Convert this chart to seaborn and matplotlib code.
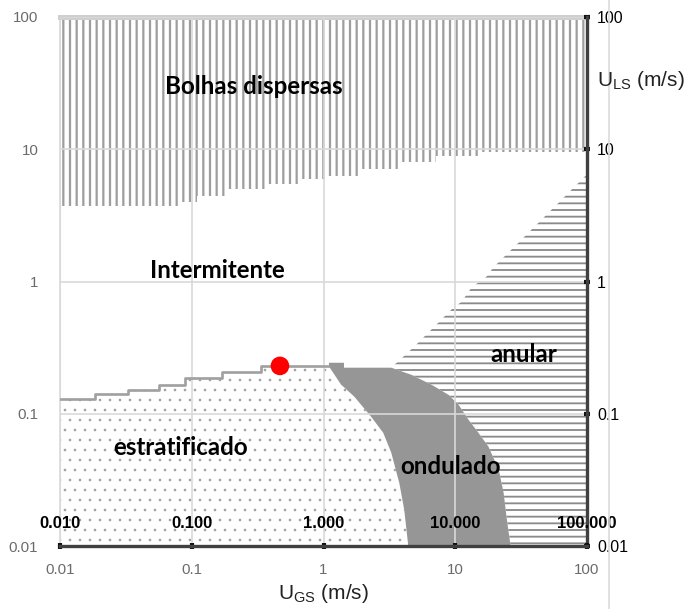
import matplotlib
matplotlib.use("Agg")
import matplotlib.pyplot as plt
import matplotlib.ticker as mticker
from matplotlib.lines import Line2D
import pandas as pd
import seaborn as sns

# Decade ticks and their labels on each of the four axes
decades = [0.01, 0.1, 1, 10, 100]
left_labels = ["0.01", "0.1", "1", "10", "100"]
bottom_labels = ["0.01", "0.1", "1", "10", "100"]
right_labels = ["0.01", "0.1", "1", "10", "100"]
top_labels = ["0.010", "0.100", "1.000", "10.000", "100.000"]

# Dispersed-bubble transition (stepwise, lower edge of the region)
ugs_db = [0.01, 0.082, 0.11, 0.19, 0.365, 0.67, 1.08, 1.93, 3.76, 7.2, 15.8, 100]
uls_db = [3.7, 3.96, 4.4, 4.98, 5.43, 5.93, 6.24, 7.05, 7.97, 8.85, 9.5, 9.5]

# Stratified / intermittent transition (stepwise)
ugs_st = [0.01, 0.0185, 0.033, 0.056, 0.0896, 0.171, 0.334, 1.10]
uls_st = [0.130, 0.141, 0.152, 0.166, 0.186, 0.207, 0.228, 0.228]

# Stratified / wavy transition
ugs_wl = [1.10, 1.36, 1.71, 2.30, 2.84, 3.27, 3.76, 4.10, 4.40]
uls_wl = [0.228, 0.166, 0.135, 0.0949, 0.0718, 0.0507, 0.030, 0.0188, 0.01]

# Upper edge of the wavy region
ugs_wt = [1.10, 1.10, 1.43, 1.43, 3.27]
uls_wt = [0.228, 0.243, 0.243, 0.223, 0.223]

# Wavy / annular transition
ugs_wr = [3.27, 4.64, 6.59, 8.89, 10.6, 12.6, 15.0, 17.9, 21.4, 23.3, 24.5, 26.3]
uls_wr = [0.223, 0.197, 0.166, 0.139, 0.117, 0.0901, 0.0718, 0.0562, 0.0377, 0.0252, 0.0166, 0.01]

# Annular / intermittent transition
ugs_an = [3.27, 4.89, 6.25, 7.59, 9.36, 11.2, 13.3, 17.3, 19.5, 23.7, 26.8, 30.3,
          38.1, 43.1, 54.1, 61.2, 76.9, 86.9, 96.6, 100]
uls_an = [0.223, 0.322, 0.411, 0.498, 0.614, 0.705, 0.901, 1.09, 1.28, 1.55, 1.75, 1.97,
          2.48, 2.80, 3.51, 3.96, 4.98, 5.62, 6.24, 6.4]

# Operating point
point_ugs = [0.467]
point_uls = [0.23]

# Flow-pattern names and where they are written
region_names = ["Bolhas dispersas", "Intermitente", "estratificado", "ondulado", "anular"]
region_ugs = [0.296, 0.157, 0.082, 9.2, 33.1]
region_uls = [30.0, 1.21, 0.056, 0.040, 0.28]

XMIN, XMAX, YMIN, YMAX = 0.01, 100, 0.01, 100


def steps_post(x, y):
    xs, ys = [x[0]], [y[0]]
    for i in range(1, len(x)):
        xs += [x[i], x[i]]
        ys += [y[i - 1], y[i]]
    return xs, ys


def hatch_width(artist, lw):
    if hasattr(artist, "set_hatch_linewidth"):
        artist.set_hatch_linewidth(lw)


sns.set_theme(style="white")
plt.rcParams["font.family"] = ["Liberation Sans", "DejaVu Sans"]
plt.rcParams["mathtext.fontset"] = "custom"
plt.rcParams["mathtext.rm"] = "Liberation Sans"

DPI = 120
fig = plt.figure(figsize=(689 / DPI, 609 / DPI), dpi=DPI)
ax = fig.add_axes([60 / 689, 1 - 546 / 609, 527 / 689, 529 / 609])
ax.set_xscale("log")
ax.set_yscale("log")
ax.set_xlim(XMIN, XMAX)
ax.set_ylim(YMIN, YMAX)

# Dispersed bubbles: vertical hatching
with plt.rc_context({"hatch.linewidth": 1.35}):
    db = ax.fill_between(ugs_db, uls_db, YMAX, step="post", facecolor="none",
                         edgecolor="#9e9e9e", hatch="|||", linewidth=0, zorder=1)
hatch_width(db, 1.35)

# Stratified: dotted
sx, sy = steps_post(ugs_st, uls_st)
strat_x = sx + ugs_wl[1:] + [XMIN]
strat_y = sy + uls_wl[1:] + [YMIN]
with plt.rc_context({"hatch.linewidth": 0.35}):
    st = ax.fill(strat_x, strat_y, facecolor="none", edgecolor="#9a9a9a", hatch="..",
                 linewidth=0, zorder=1)[0]
hatch_width(st, 0.35)

# Wavy: solid grey
wavy_x = ugs_wt + ugs_wr[1:] + ugs_wl[::-1]
wavy_y = uls_wt + uls_wr[1:] + uls_wl[::-1]
ax.fill(wavy_x, wavy_y, facecolor="#969696", edgecolor="none", linewidth=0, zorder=1)

# Annular: horizontal hatching
ann_x = ugs_an + [XMAX] + ugs_wr[::-1][:-1]
ann_y = uls_an + [YMIN] + uls_wr[::-1][:-1]
with plt.rc_context({"hatch.linewidth": 1.1}):
    an = ax.fill(ann_x, ann_y, facecolor="none", edgecolor="#8a8a8a", hatch="---",
                 linewidth=0, zorder=1)[0]
hatch_width(an, 1.1)

# Stratified boundary line
st_df = pd.DataFrame({"ugs": sx, "uls": sy})
sns.lineplot(data=st_df, x="ugs", y="uls", sort=False, estimator=None,
             color="#a0a0a0", linewidth=1.6, ax=ax, zorder=3)

# Operating point
pt_df = pd.DataFrame({"ugs": point_ugs, "uls": point_uls})
sns.scatterplot(data=pt_df, x="ugs", y="uls", color="#ff0000", s=125,
                edgecolor="none", ax=ax, zorder=4)

for name, xv, yv in zip(region_names, region_ugs, region_uls):
    ax.text(xv, yv, name, ha="center", va="center", fontsize=14.5,
            fontweight="bold", family=["Lato", "DejaVu Sans"], color="black", zorder=5)

# Primary axes: grey labels, no tick marks, light grid drawn over the fills
ax.set_axisbelow(False)
ax.grid(True, which="major", color="#d9d9d9", linewidth=1)
ax.xaxis.set_major_locator(mticker.FixedLocator(decades))
ax.xaxis.set_major_formatter(mticker.FixedFormatter(bottom_labels))
ax.yaxis.set_major_locator(mticker.FixedLocator(decades))
ax.yaxis.set_major_formatter(mticker.FixedFormatter(left_labels))
ax.xaxis.set_minor_locator(mticker.NullLocator())
ax.yaxis.set_minor_locator(mticker.NullLocator())
ax.tick_params(axis="both", which="major", length=0, labelsize=9,
               labelcolor="#6b6b6b")
ax.tick_params(axis="y", pad=13)
ax.tick_params(axis="x", pad=10)
ax.set_xlabel(r"$\mathrm{U_{GS}}$ (m/s)", fontsize=12.5, color="#222222", labelpad=3)
ax.set_ylabel("")
ax.spines["top"].set_color("#cfcfcf")
ax.spines["top"].set_linewidth(3)
ax.spines["left"].set_color("#d9d9d9")
ax.spines["left"].set_linewidth(1)
ax.spines["right"].set_visible(False)
ax.spines["bottom"].set_visible(False)

# Secondary vertical axis on the right
ax_r = ax.twinx()
ax_r.set_yscale("log")
ax_r.set_ylim(YMIN, YMAX)
ax_r.yaxis.set_major_locator(mticker.FixedLocator(decades))
ax_r.yaxis.set_major_formatter(mticker.FixedFormatter(right_labels))
ax_r.yaxis.set_minor_locator(mticker.NullLocator())
ax_r.tick_params(axis="y", direction="inout", length=4, width=2.5, color="#111111",
                 labelsize=9.5, labelcolor="black", pad=4)
for s in ["top", "bottom", "left"]:
    ax_r.spines[s].set_visible(False)
ax_r.spines["right"].set_color("#404040")
ax_r.spines["right"].set_linewidth(2)
ax_r.grid(False)

# Secondary horizontal axis drawn along the bottom, labels above it
ax_t = ax.twiny()
ax_t.set_xscale("log")
ax_t.set_xlim(XMIN, XMAX)
ax_t.xaxis.set_major_locator(mticker.FixedLocator(decades))
ax_t.xaxis.set_major_formatter(mticker.FixedFormatter(top_labels))
ax_t.xaxis.set_minor_locator(mticker.NullLocator())
ax_t.spines["top"].set_position(("axes", 0.0))
ax_t.spines["top"].set_color("#404040")
ax_t.spines["top"].set_linewidth(2)
for s in ["bottom", "left", "right"]:
    ax_t.spines[s].set_visible(False)
ax_t.tick_params(axis="x", direction="inout", length=4, width=2.5, color="#111111",
                 labelsize=10, labelcolor="black", pad=7)
for lab in ax_t.get_xticklabels():
    lab.set_fontweight("bold")
ax_t.grid(False)

fig.text(597 / 689, 1 - 80 / 609, r"$\mathrm{U_{LS}}$ (m/s)", fontsize=12.5,
         color="#222222", ha="left", va="center")
fig.add_artist(Line2D([609 / 689, 609 / 689], [0, 1], transform=fig.transFigure,
                      color="#dcdcdc", linewidth=1))

fig.savefig("out.png", dpi=DPI)
